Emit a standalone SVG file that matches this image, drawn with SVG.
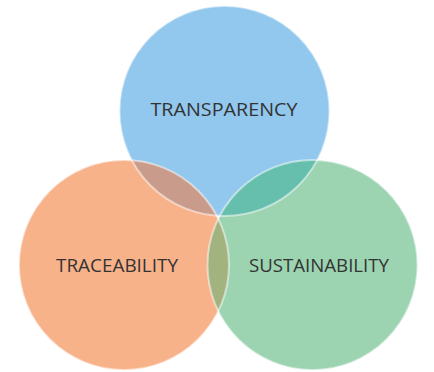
<svg xmlns="http://www.w3.org/2000/svg" width="434" height="372" viewBox="0 0 434 372">
  <style>
    .lbl { font-family: "Open Sans", "Liberation Sans", sans-serif; font-size: 19px; fill: #333333; text-anchor: middle; }
    .edge { fill: none; stroke: #ffffff; stroke-opacity: 0.5; stroke-width: 2; }
  </style>
  <defs>
    <clipPath id="clipBlue"><circle cx="224.5" cy="111" r="105"/></clipPath>
    <clipPath id="clipOrange"><circle cx="124" cy="265" r="105"/></clipPath>
    <clipPath id="clipGreen"><circle cx="312.5" cy="265" r="105"/></clipPath>
  </defs>
  <rect width="434" height="372" fill="#ffffff"/>
  <g id="transparency">
    <circle cx="224.5" cy="111" r="105" fill="#92C7EE"/>
  </g>
  <g id="traceability">
    <circle cx="124" cy="265" r="105" fill="#F8B28A"/>
  </g>
  <g id="sustainability">
    <circle cx="312.5" cy="265" r="105" fill="#9CD3B1"/>
  </g>
  <g id="overlaps">
    <g clip-path="url(#clipBlue)">
      <circle cx="124" cy="265" r="105" fill="#C99B8A"/>
      <circle cx="312.5" cy="265" r="105" fill="#66BFAD"/>
    </g>
    <g clip-path="url(#clipOrange)">
      <circle cx="312.5" cy="265" r="105" fill="#A3B37F"/>
    </g>
  </g>
  <g id="connectors">
    <circle class="edge" cx="224.5" cy="111" r="105"/>
    <circle class="edge" cx="124" cy="265" r="105"/>
    <circle class="edge" cx="312.5" cy="265" r="105"/>
  </g>
  <g id="labels">
    <text class="lbl" x="224" y="115.5" textLength="147" lengthAdjust="spacingAndGlyphs">TRANSPARENCY</text>
    <text class="lbl" x="117" y="272" textLength="122" lengthAdjust="spacingAndGlyphs">TRACEABILITY</text>
    <text class="lbl" x="319" y="272" textLength="140" lengthAdjust="spacingAndGlyphs">SUSTAINABILITY</text>
  </g>
</svg>
